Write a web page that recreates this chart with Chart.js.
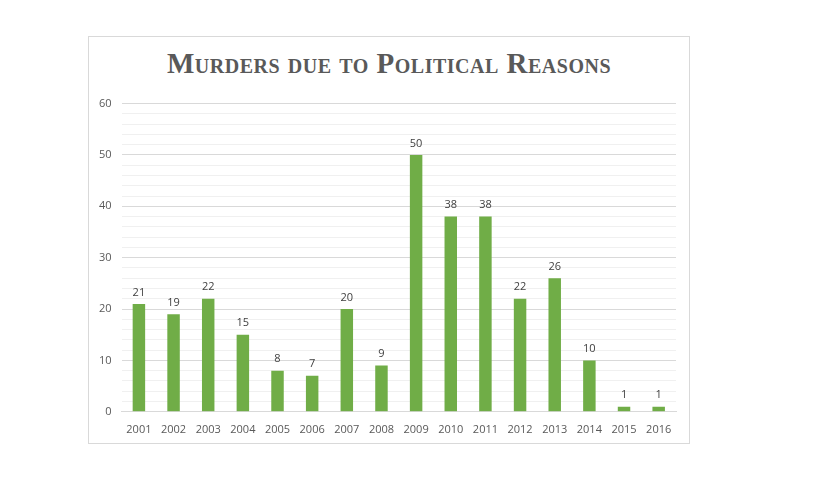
<!DOCTYPE html>
<html><head><meta charset="utf-8">
<script src="https://cdn.jsdelivr.net/npm/chart.js@4"></script>
<style>
body{margin:0;background:#fff;}
#box{position:absolute;left:88px;top:36px;width:600px;height:406px;border:1px solid #d9d9d9;background:#fff;}
#title{position:absolute;left:0;top:10px;width:600px;text-align:center;font-family:"Liberation Serif",serif;font-weight:bold;font-variant:small-caps;font-size:29px;color:#595959;letter-spacing:0.5px;}
#wrap{position:absolute;left:0;top:50px;width:600px;height:356px;}
</style></head><body>
<div id="box"><div id="title">Murders due to Political Reasons</div><div id="wrap"><canvas id="c"></canvas></div></div>
<script>
const categories=["2001","2002","2003","2004","2005","2006","2007","2008","2009","2010","2011","2012","2013","2014","2015","2016"];
const murders=[21,19,22,15,8,7,20,9,50,38,38,22,26,10,1,1];
const labelPlugin={id:'lbl',afterDatasetsDraw(chart){const ctx=chart.ctx;const meta=chart.getDatasetMeta(0);ctx.save();ctx.font='11px "Open Sans", sans-serif';ctx.fillStyle='#404040';ctx.textAlign='center';ctx.textBaseline='bottom';meta.data.forEach((b,i)=>{ctx.fillText(String(murders[i]),b.x,b.y-6);});ctx.restore();}};
new Chart(document.getElementById('c'),{type:'bar',data:{labels:categories,datasets:[{data:murders,backgroundColor:'#70ad47',barPercentage:0.36,categoryPercentage:1}]},
options:{responsive:true,maintainAspectRatio:false,animation:false,layout:{padding:{top:0,right:13,left:0,bottom:4}},
plugins:{legend:{display:false},tooltip:{enabled:false}},
scales:{x:{grid:{display:false},border:{color:'#d9d9d9'},ticks:{color:'#595959',font:{size:11,family:'"Open Sans", sans-serif'},maxRotation:0}},
y:{min:0,max:60,border:{display:false},ticks:{stepSize:2,autoSkip:false,color:'#595959',padding:10,font:{size:11,family:'"Open Sans", sans-serif'},callback:v=>v%10===0?v:''},
grid:{color:c=>c.tick.value%10===0?'#d9d9d9':'#f0f0f0',drawTicks:false}}}},plugins:[labelPlugin]});
</script></body></html>
